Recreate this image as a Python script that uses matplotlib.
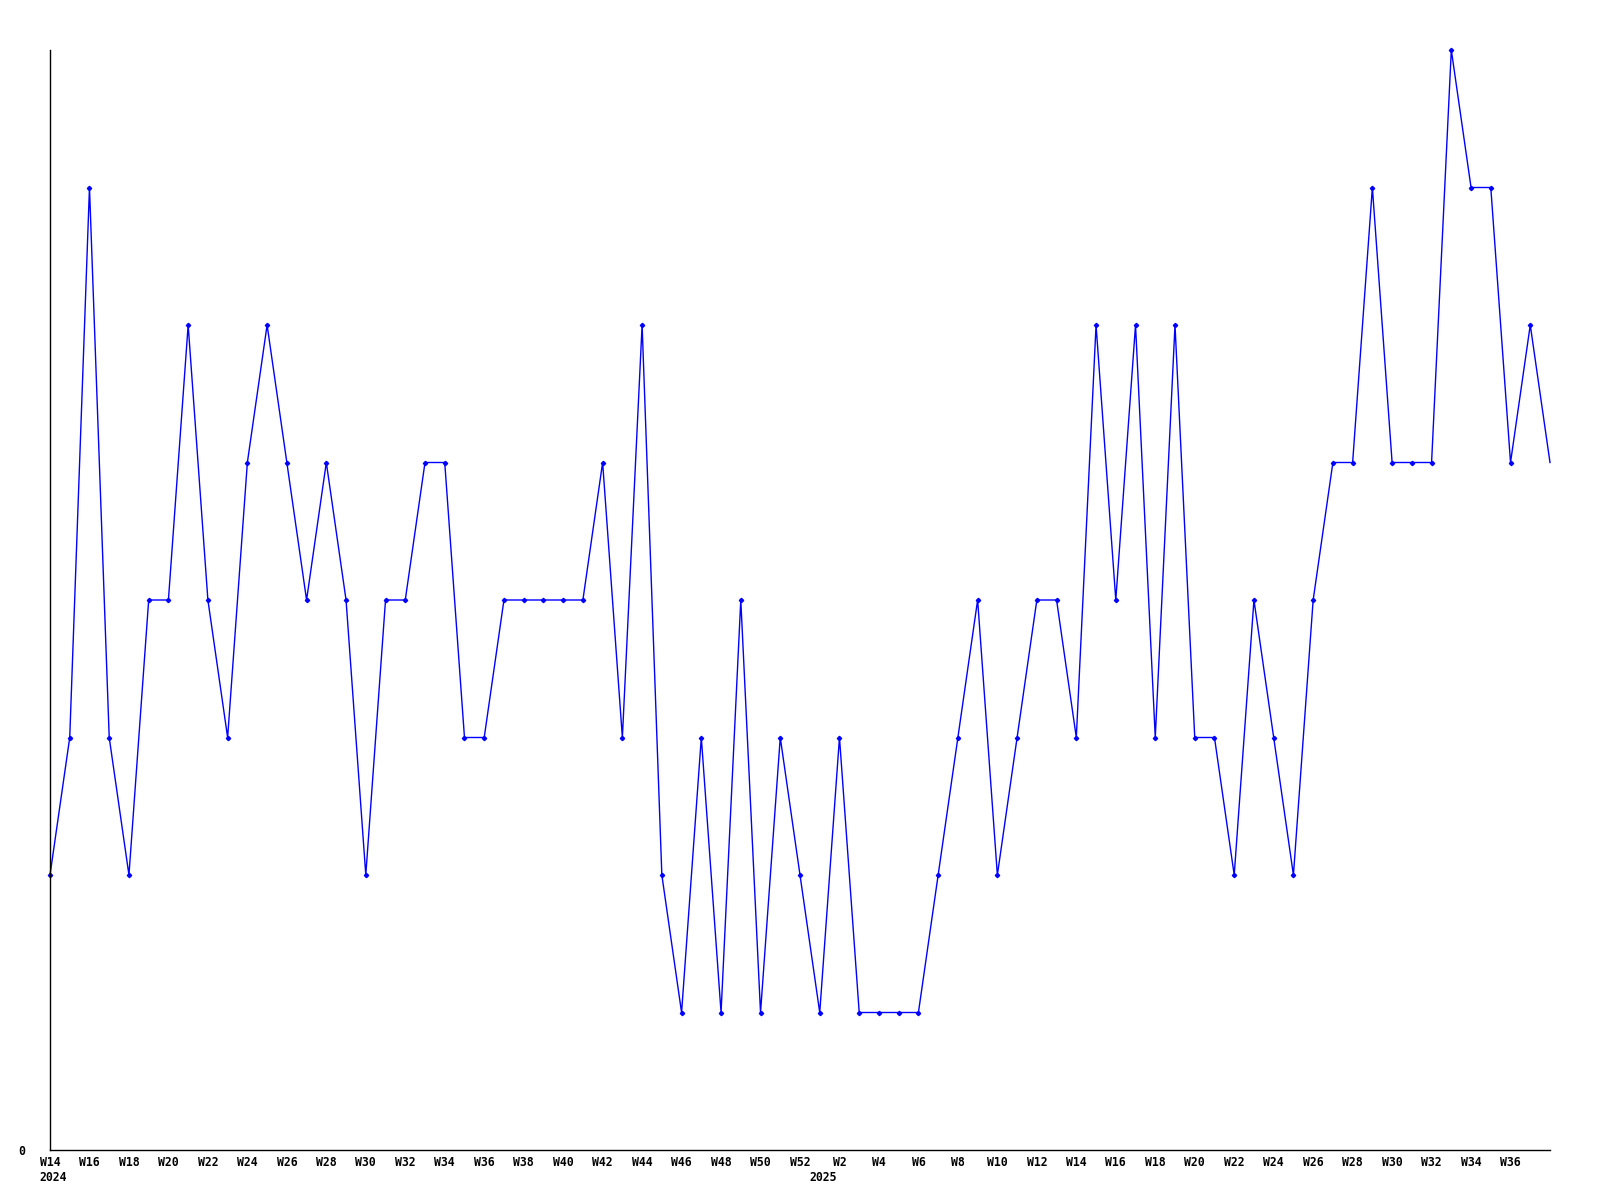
import matplotlib
matplotlib.use("Agg")
import matplotlib.pyplot as plt
import matplotlib.transforms as mtransforms

# Weekly series: 2024 W14 .. 2024 W52, then 2025 W1 .. 2025 W38
weeks_2024 = [f"W{w}" for w in range(14, 53)]
weeks_2025 = [f"W{w}" for w in range(1, 39)]
values_2024 = [2, 3, 7, 3, 2, 4, 4, 6, 4, 3, 5, 6, 5, 4, 5, 4, 2, 4, 4, 5,
               5, 3, 3, 4, 4, 4, 4, 4, 5, 3, 6, 2, 1, 3, 1, 4, 1, 3, 2]
values_2025 = [1, 3, 1, 1, 1, 1, 2, 3, 4, 2, 3, 4, 4, 3, 6, 4, 6, 3, 6, 3,
               3, 2, 4, 3, 2, 4, 5, 5, 7, 5, 5, 5, 8, 7, 7, 5, 6, 5]
year_labels = ["2024", "2025"]

weeks = weeks_2024 + weeks_2025
values = values_2024 + values_2025
x = list(range(len(values)))

fig = plt.figure(figsize=(16, 12), dpi=100)
ax = fig.add_axes([50 / 1600, 1 - 1150 / 1200, 1500 / 1600, 1100 / 1200])

ax.plot(x, values, color="#0000ff", linewidth=1.0, marker="D", markersize=2.2,
        markerfacecolor="#0000ff", markeredgecolor="#0000ff",
        markevery=list(range(len(values) - 1)), clip_on=False)

ax.set_xlim(0, len(values) - 1)
ax.set_ylim(0, max(values))

for s in ["top", "right"]:
    ax.spines[s].set_visible(False)
for s in ["left", "bottom"]:
    ax.spines[s].set_linewidth(1.0)
    ax.spines[s].set_color("black")

font = dict(family="DejaVu Sans Mono", weight="bold", size=8.3)

tick_pos = [i for i, w in enumerate(weeks[:-1]) if int(w[1:]) % 2 == 0]
ax.set_xticks(tick_pos)
ax.set_xticklabels([weeks[i] for i in tick_pos], fontdict=font)
ax.set_yticks([0])
ax.set_yticklabels(["0"], fontdict=font)
ax.tick_params(axis="x", length=0, pad=4.5)
ax.tick_params(axis="y", length=0, pad=18)

trans = mtransforms.blended_transform_factory(ax.transData, ax.transAxes)
year_pos = [0, len(weeks_2024)]
for xp, lab in zip(year_pos, year_labels):
    ax.text(xp + 0.15, -0.0195, lab, transform=trans, ha="center", va="top", **font)

fig.savefig("out.png", dpi=100, facecolor="white")
